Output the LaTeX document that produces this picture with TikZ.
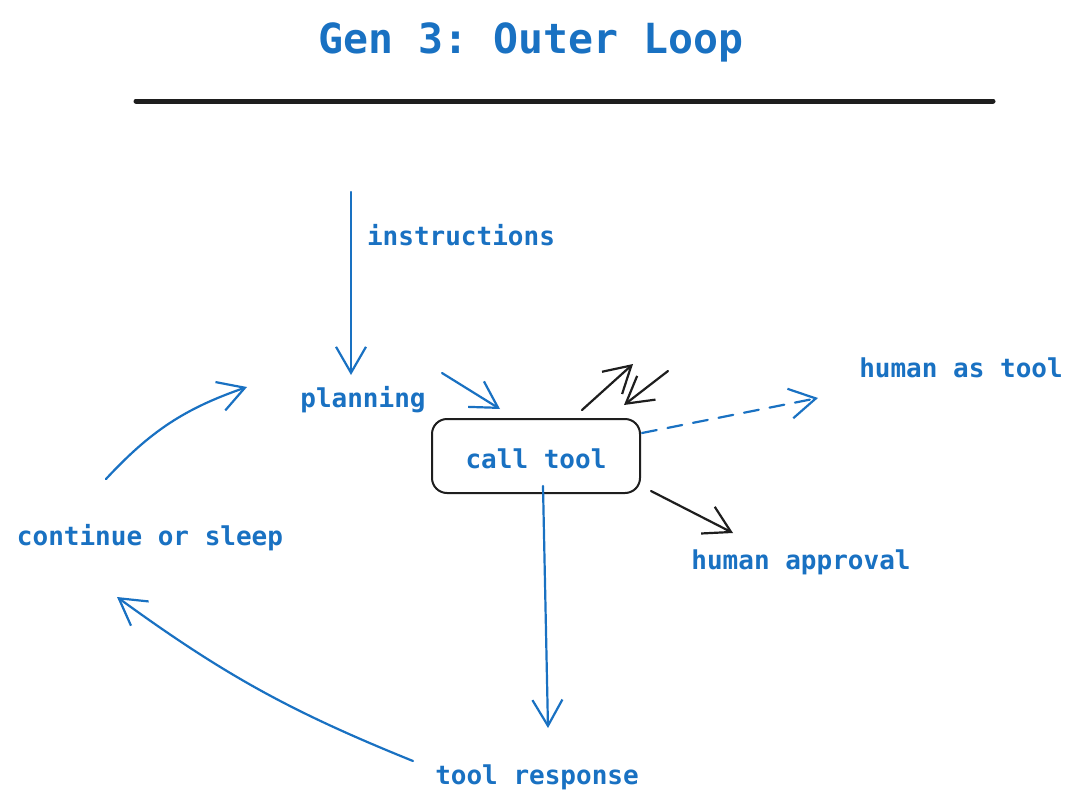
\documentclass[tikz,border=0pt]{standalone}
\usepackage{fontspec}
\setmonofont{DejaVu Sans Mono}
\usetikzlibrary{arrows.meta}
\definecolor{xblue}{HTML}{1971C2}
\definecolor{xink}{HTML}{1E1E1E}
\begin{document}
\begin{tikzpicture}[x=1pt,y=-1pt,
  lbl/.style={text=xblue,font=\ttfamily\bfseries\fontsize{26}{31}\selectfont,inner sep=0pt,anchor=center},
  barb/.style={-{Straight Barb[length=26pt,width=30pt,line width=2.2pt]},line width=2.2pt,line cap=round},
  bluearr/.style={barb,draw=xblue},
  blackarr/.style={barb,draw=xink}]
\useasboundingbox[fill=white] (0,0) rectangle (1080,806);
% title
\node[text=xblue,font=\ttfamily\bfseries\fontsize{41.5}{50}\selectfont,inner sep=0pt] (title) at (531,42) {Gen 3: Outer Loop};
\coordinate (rl) at (136,101);
\coordinate (rr) at (993,101);
\draw[line width=5pt,draw=xink,line cap=round] (rl) -- (rr);
% labels
\node[lbl] (instr) at (461,235) {instructions};
\node[lbl] (plan) at (363,400) {planning};
\node[draw=xink,line width=2pt,rounded corners=15pt,minimum width=208pt,minimum height=74pt,inner sep=0pt] (box) at (536,456) {};
\node[lbl] (call) at (536,459) {call tool};
\node[lbl] (resp) at (537,777) {tool response};
\node[lbl] (cont) at (150,538) {continue or sleep};
\node[lbl] (hat) at (961,368) {human as tool};
\node[lbl] (happ) at (801,562) {human approval};
% coordinates for arrow ends
\coordinate (i1) at (351,192);
\coordinate (i2) at (351,375);
\coordinate (p1) at (442,373);
\coordinate (p2) at (500,409);
\coordinate (c1) at (543,486);
\coordinate (c2) at (548,728);
\coordinate (t1) at (413,761);
\coordinate (t2) at (117,597);
\coordinate (s1) at (106,479);
\coordinate (s2) at (247,387);
\coordinate (u1) at (582,410);
\coordinate (u2) at (633,364);
\coordinate (d1) at (668,371);
\coordinate (d2) at (624,405);
\coordinate (h1) at (642,433);
\coordinate (h2) at (818,398);
\coordinate (a1) at (651,491);
\coordinate (a2) at (733,533);
% arrows
\draw[bluearr] (i1) -- (i2);
\draw[bluearr] (p1) -- (p2);
\draw[bluearr] (c1) -- (c2);
\draw[bluearr] (t1) to[bend left=7] (t2);
\draw[bluearr] (s1) to[bend left=14] (s2);
\draw[bluearr,dash pattern=on 15pt off 11pt] (h1) -- (h2);
\draw[blackarr] (u1) -- (u2);
\draw[blackarr] (d1) -- (d2);
\draw[blackarr] (a1) -- (a2);
\end{tikzpicture}
\end{document}
